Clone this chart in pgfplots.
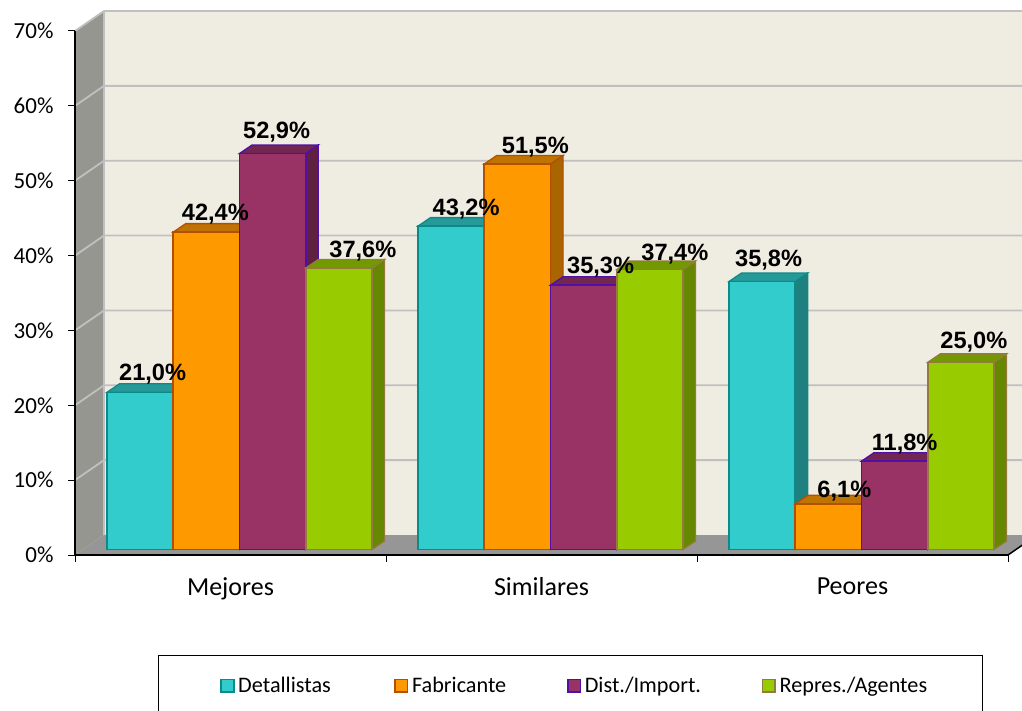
\documentclass[border=0pt]{standalone}
\usepackage{fontspec}
\usepackage{pgfplots}
\usepackage{pgfplotstable}
\pgfplotsset{compat=1.18}
\setmainfont{Carlito}
\newfontfamily\lblfont{Liberation Sans}
\definecolor{wallb}{HTML}{EFEDE2}
\definecolor{wallg}{HTML}{C0C0C0}
\definecolor{walll}{HTML}{969690}
\definecolor{floorc}{HTML}{969696}
\definecolor{cF}{HTML}{33CCCC}\definecolor{cE}{HTML}{0B8A8A}\definecolor{cT}{HTML}{269999}\definecolor{cS}{HTML}{1F8080}
\definecolor{oF}{HTML}{FF9900}\definecolor{oE}{HTML}{B25000}\definecolor{oT}{HTML}{BF7300}\definecolor{oS}{HTML}{A86500}
\definecolor{pF}{HTML}{993366}\definecolor{pE}{HTML}{4F10A8}\definecolor{pT}{HTML}{732650}\definecolor{pS}{HTML}{60203F}
\definecolor{gF}{HTML}{99CC00}\definecolor{gE}{HTML}{947A3C}\definecolor{gT}{HTML}{739900}\definecolor{gS}{HTML}{668800}
% x y label-dx label-dy (offsets of the value labels, in pt)
\pgfplotstableread{
x y lx ly
0 21.0 12.5 12
1 43.2 15 10.5
2 35.8 6.5 15.5
}\tDet
\pgfplotstableread{
x y lx ly
0 42.4 9 12
1 51.5 18 10.5
2 6.1 16 6.5
}\tFab
\pgfplotstableread{
x y lx ly
0 52.9 4 15.5
1 35.3 17 11.5
2 11.8 10 10.5
}\tDis
\pgfplotstableread{
x y lx ly
0 37.6 24 11
1 37.4 25 9.5
2 25.0 13 13.5
}\tRep
% depth of a bar: 12.5pt x 8.5pt; bar width 66.25pt; 311pt per category; 7.486pt per 1%
\newcommand{\facesbar}[5]{% group, index, value, colour prefix
  \pgfmathsetmacro\fL{#1+(#2-2)*0.21302}
  \pgfmathsetmacro\fR{\fL+0.21302}
  \pgfmathsetmacro\fDL{\fL+0.0402}
  \pgfmathsetmacro\fDR{\fR+0.0402}
  \pgfmathsetmacro\fU{#3+1.135}
  \edef\tmp{\noexpand\addplot[forget plot,mark=none,fill=#4S,draw=#4E,line width=1.3pt] coordinates {(\fR,0) (\fDR,1.135) (\fDR,\fU) (\fR,#3)} --cycle;
  \noexpand\addplot[forget plot,mark=none,fill=#4T,draw=#4E,line width=1.3pt] coordinates {(\fL,#3) (\fR,#3) (\fDR,\fU) (\fDL,\fU)} --cycle;}\tmp
}
\pgfplotsset{
  swatch/.style={legend image code/.code={\draw[line width=1.6pt,##1] (0pt,-6pt) rectangle (12.5pt,6.5pt);\path[draw=none,fill=none] (0pt,0pt) -- (15pt,0pt);}},
  frontbar/.style n args={3}{ybar,bar width=66.25pt,bar shift=#3pt,fill=#1F,draw=#1E,line width=1.6pt,mark=none,swatch},
}
\begin{document}
\begin{tikzpicture}
\path[use as bounding box] (0pt,0pt) rectangle (1022pt,710pt);
\begin{axis}[
  at={(75pt,155pt)},anchor=south west,scale only axis,width=933pt,height=524pt,
  xmin=-0.5,xmax=2.5,ymin=0,ymax=70,clip=false,axis on top,
  axis x line*=bottom,axis y line*=left,
  axis line style={line width=1.8pt,black,-},
  tick align=outside,
  every tick/.style={black,line width=1pt},
  xtick={0,1,2},xticklabels={Mejores,Similares,Peores},
  major x tick style={draw=none},
  minor xtick={-0.5,0.5,1.5,2.5},
  minor tick length=7pt,
  major tick length=7pt,
  xticklabel style={font=\fontsize{26pt}{30pt}\selectfont,yshift=-12pt},
  ytick={0,10,...,70},yticklabels={0\%,10\%,20\%,30\%,40\%,50\%,60\%,70\%},
  yticklabel style={font=\fontsize{23pt}{27pt}\selectfont,xshift=-11pt},
]
% walls and floor
\addplot[mark=none,fill=wallb,draw=none] coordinates {(-0.40675,2.672) (2.59325,2.672) (2.59325,72.672) (-0.40675,72.672)} --cycle;
\addplot[mark=none,fill=walll,draw=none] coordinates {(-0.5,0) (-0.40675,2.672) (-0.40675,72.672) (-0.5,70)} --cycle;
\addplot[mark=none,fill=floorc,draw=none] coordinates {(-0.5,0) (2.5,0) (2.59325,2.672) (-0.40675,2.672)} --cycle;
\pgfplotsinvokeforeach{10,20,30,40,50,60,70}{
  \addplot[mark=none,wallg,line width=1.8pt] coordinates {(-0.5,#1) (-0.40675,#1+2.672) (2.59325,#1+2.672)};
}
\addplot[mark=none,wallg,line width=1.8pt] coordinates {(-0.40675,2.672) (-0.40675,72.672)};
\addplot[mark=none,black,line width=1.5pt] coordinates {(2.5,0) (2.59325,2.672)};
\end{axis}
\begin{axis}[
  at={(84pt,160.5pt)},anchor=south west,scale only axis,width=933pt,height=524pt,
  xmin=-0.5,xmax=2.5,ymin=0,ymax=70,clip=false,axis lines=none,
  legend columns=4,
  legend style={at={(0.0793,-0.2014)},anchor=north west,draw=black,line width=0.9pt,
    inner xsep=62pt,inner ysep=20pt,
    font=\fontsize{22.2pt}{27pt}\selectfont,
    cells={anchor=west},
    /tikz/every even column/.append style={column sep=0pt}},
]
\facesbar{0}{0}{21.0}{c}{}\facesbar{1}{0}{43.2}{c}{}\facesbar{2}{0}{35.8}{c}{}
\addplot[frontbar={c}{}{-99.375}] table[x=x,y=y] {\tDet};
\addlegendentry{\makebox[154pt][l]{Detallistas}}
\facesbar{0}{1}{42.4}{o}{}\facesbar{1}{1}{51.5}{o}{}\facesbar{2}{1}{6.1}{o}{}
\addplot[frontbar={o}{}{-33.125}] table[x=x,y=y] {\tFab};
\addlegendentry{\makebox[153pt][l]{Fabricante}}
\facesbar{0}{2}{52.9}{p}{}\facesbar{1}{2}{35.3}{p}{}\facesbar{2}{2}{11.8}{p}{}
\addplot[frontbar={p}{}{33.125}] table[x=x,y=y] {\tDis};
\addlegendentry{\makebox[175pt][l]{Dist./Import.}}
\facesbar{0}{3}{37.6}{g}{}\facesbar{1}{3}{37.4}{g}{}\facesbar{2}{3}{25.0}{g}{}
\addplot[frontbar={g}{}{99.375}] table[x=x,y=y] {\tRep};
\addlegendentry{\makebox[139pt][l]{Repres./Agentes}}
% value labels, on top of all bars
\pgfplotsset{vlabels/.style={forget plot,only marks,mark=none,
  visualization depends on={\thisrow{lx} \as \vlx},
  visualization depends on={\thisrow{ly} \as \vly},
  nodes near coords={\pgfmathprintnumber[fixed,fixed zerofill,precision=1,use comma,assume math mode=true]{\pgfplotspointmeta}\%},
  nodes near coords style={font=\lblfont\bfseries\fontsize{23.6pt}{27pt}\selectfont,anchor=base,inner sep=0pt,xshift=\vlx pt,yshift=\vly pt},
}}
\addplot[vlabels] table[x expr=\thisrow{x}-0.31953,y=y] {\tDet};
\addplot[vlabels] table[x expr=\thisrow{x}-0.10651,y=y] {\tFab};
\addplot[vlabels] table[x expr=\thisrow{x}+0.10651,y=y] {\tDis};
\addplot[vlabels] table[x expr=\thisrow{x}+0.31953,y=y] {\tRep};
\end{axis}
\end{tikzpicture}
\end{document}
